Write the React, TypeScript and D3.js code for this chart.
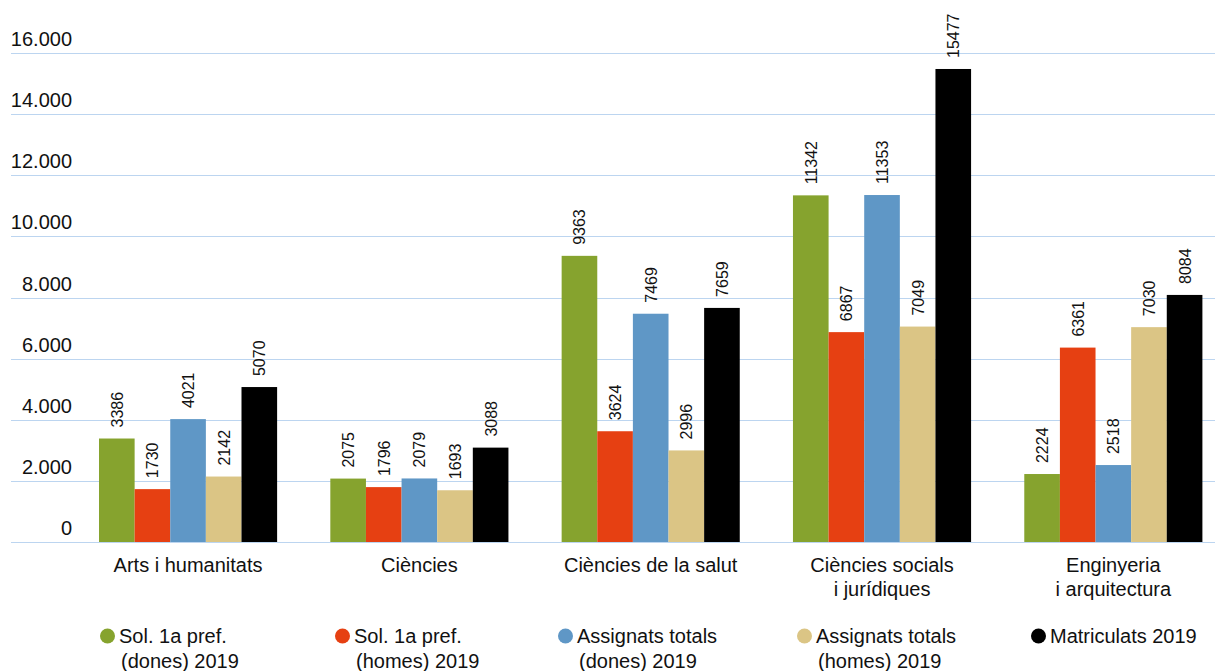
import { useEffect, useRef } from "react";
import * as d3 from "d3";

const categories = [
  "Arts i humanitats",
  "Ciències",
  "Ciències de la salut",
  "Ciències socials i jurídiques",
  "Enginyeria i arquitectura",
];

const categoryLines = [
  ["Arts i humanitats"],
  ["Ciències"],
  ["Ciències de la salut"],
  ["Ciències socials", "i jurídiques"],
  ["Enginyeria", "i arquitectura"],
];

const seriesNames = [
  ["Sol. 1a pref.", "(dones) 2019"],
  ["Sol. 1a pref.", "(homes) 2019"],
  ["Assignats totals", "(dones) 2019"],
  ["Assignats totals", "(homes) 2019"],
  ["Matriculats 2019"],
];

const solDones = [3386, 2075, 9363, 11342, 2224];
const solHomes = [1730, 1796, 3624, 6867, 6361];
const assigDones = [4021, 2079, 7469, 11353, 2518];
const assigHomes = [2142, 1693, 2996, 7049, 7030];
const matriculats = [5070, 3088, 7659, 15477, 8084];

const series = [solDones, solHomes, assigDones, assigHomes, matriculats];
const colors = ["#86a32e", "#e64012", "#5f97c6", "#dbc585", "#000000"];

const yTicks = [0, 2000, 4000, 6000, 8000, 10000, 12000, 14000, 16000];

const font = "'Liberation Sans', Arial, sans-serif";

export default function App() {
  const svgRef = useRef<SVGSVGElement | null>(null);

  useEffect(() => {
    if (!svgRef.current) return;
    const svg = d3.select(svgRef.current);
    svg.selectAll("*").remove();

    const width = 1215;
    const height = 671;

    const y = d3.scaleLinear().domain([0, 16000]).range([542, 53]);
    const x = d3
      .scaleBand<string>()
      .domain(categories)
      .range([72.4, 1229])
      .paddingInner(0.23)
      .paddingOuter(0.115);
    const xs = d3
      .scaleBand<number>()
      .domain(d3.range(series.length))
      .range([0, x.bandwidth()]);

    svg.attr("viewBox", `0 0 ${width} ${height}`).attr("font-family", font);

    // gridlines + tick labels
    const grid = svg.append("g");
    grid
      .selectAll("line")
      .data(yTicks)
      .join("line")
      .attr("x1", 11)
      .attr("x2", width)
      .attr("y1", (d) => Math.round(y(d)) + 0.5)
      .attr("y2", (d) => Math.round(y(d)) + 0.5)
      .attr("stroke", "#bcd5f0")
      .attr("stroke-width", 1);
    grid
      .selectAll("text")
      .data(yTicks)
      .join("text")
      .attr("x", 72)
      .attr("y", (d) => y(d) - 7)
      .attr("text-anchor", "end")
      .attr("font-size", 20)
      .attr("fill", "#111")
      .text((d) => (d === 0 ? "0" : d3.format(",")(d).replace(/,/g, ".")));

    // bars
    const groups = svg
      .append("g")
      .selectAll("g")
      .data(categories)
      .join("g")
      .attr("transform", (c) => `translate(${x(c)},0)`);

    groups.each(function (_, ci) {
      const g = d3.select(this);
      series.forEach((values, si) => {
        const v = values[ci];
        const bx = xs(si) ?? 0;
        g.append("rect")
          .attr("x", bx)
          .attr("y", y(v))
          .attr("width", xs.bandwidth())
          .attr("height", y(0) - y(v))
          .attr("fill", colors[si]);
        const cx = bx + xs.bandwidth() / 2;
        const ty = y(v) - 11;
        g.append("text")
          .attr("transform", `translate(${cx + 6},${ty}) rotate(-90)`)
          .attr("font-size", 16)
          .attr("fill", "#111")
          .text(String(v));
      });
    });

    // category labels
    svg
      .append("g")
      .selectAll("text")
      .data(categories)
      .join("text")
      .attr("x", (c) => (x(c) ?? 0) + x.bandwidth() / 2)
      .attr("y", 572)
      .attr("text-anchor", "middle")
      .attr("font-size", 20)
      .attr("fill", "#111")
      .each(function (_, i) {
        const t = d3.select(this);
        categoryLines[i].forEach((line, li) => {
          t.append("tspan")
            .attr("x", t.attr("x"))
            .attr("dy", li === 0 ? 0 : 24)
            .text(line);
        });
      });

    // legend
    const legendTextX = [119, 354, 577, 816, 1050];
    const legend = svg
      .append("g")
      .selectAll("g")
      .data(seriesNames)
      .join("g")
      .attr("transform", (_, i) => `translate(${legendTextX[i]},0)`);
    legend
      .append("circle")
      .attr("cx", -11.5)
      .attr("cy", 636)
      .attr("r", 7.5)
      .attr("fill", (_, i) => colors[i]);
    legend
      .append("text")
      .attr("y", 643)
      .attr("font-size", 20)
      .attr("fill", "#111")
      .each(function (lines) {
        const t = d3.select(this);
        lines.forEach((line, li) => {
          t.append("tspan")
            .attr("x", li === 0 ? 0 : 2)
            .attr("dy", li === 0 ? 0 : 24.5)
            .text(line);
        });
      });
  }, []);

  return (
    <svg
      ref={svgRef}
      width={1215}
      height={671}
      style={{ position: "absolute", left: 0, top: 0, background: "#fff" }}
    />
  );
}
